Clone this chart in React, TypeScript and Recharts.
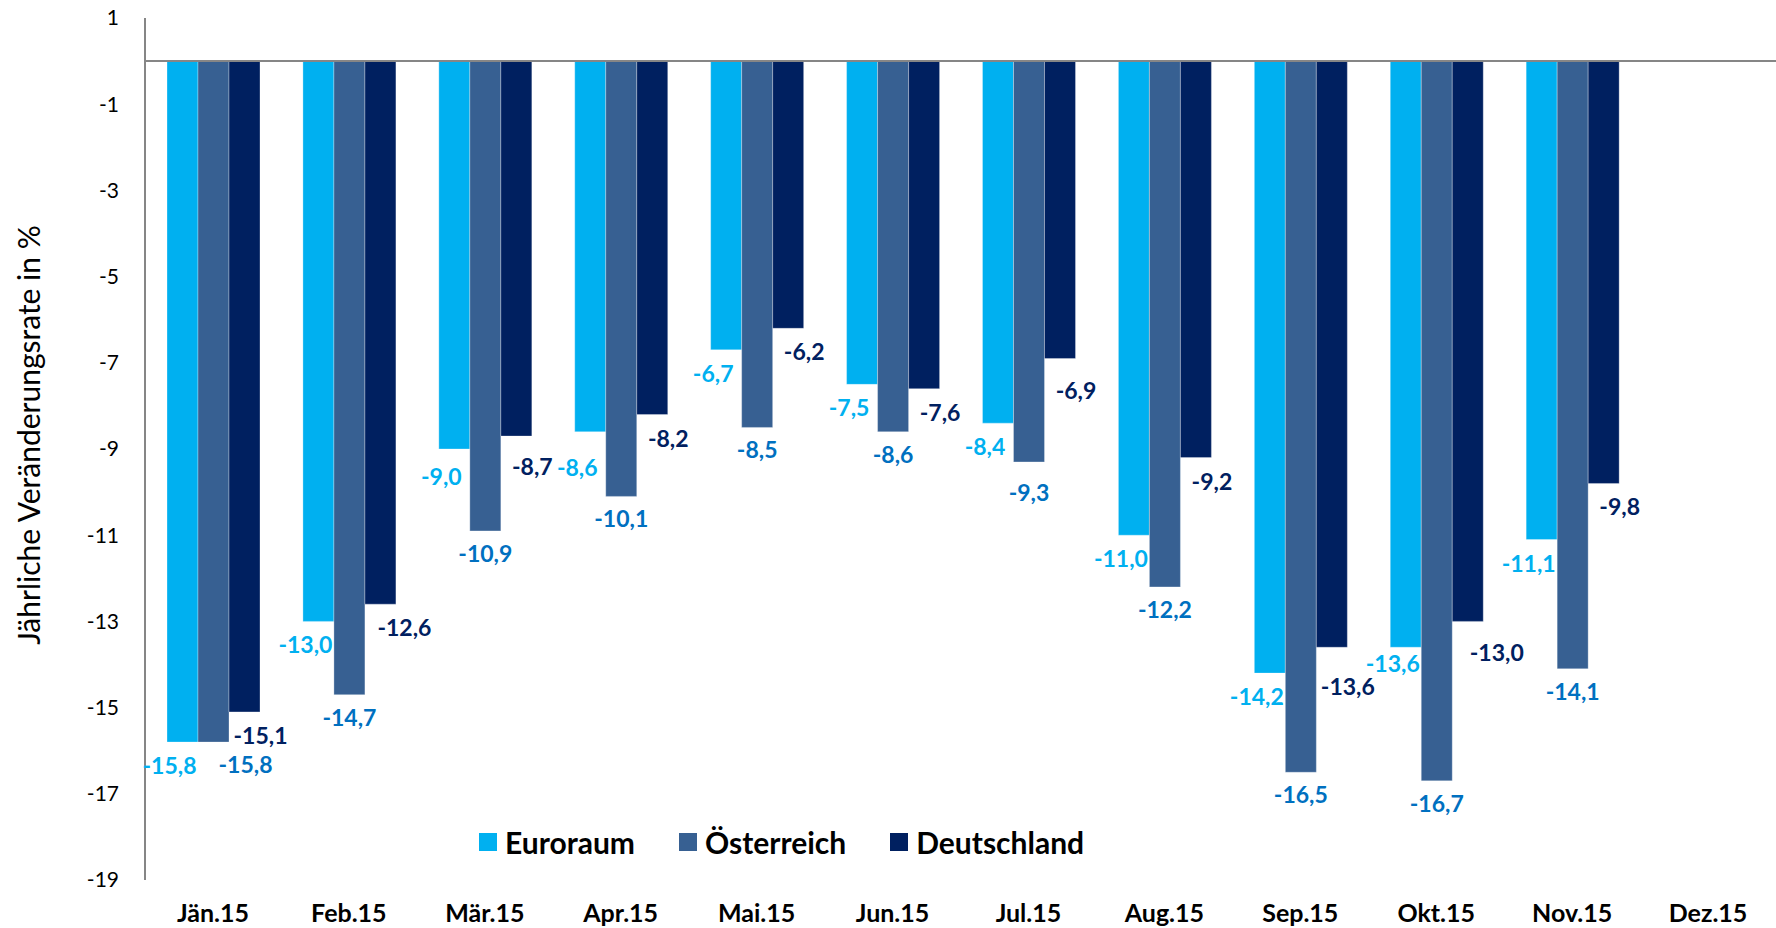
import React from 'react';
import { BarChart, Bar, XAxis, YAxis, ReferenceLine, LabelList, Legend } from 'recharts';

const months = ['Jän.15', 'Feb.15', 'Mär.15', 'Apr.15', 'Mai.15', 'Jun.15', 'Jul.15', 'Aug.15', 'Sep.15', 'Okt.15', 'Nov.15', 'Dez.15'];
const euroraum = [-15.8, -13.0, -9.0, -8.6, -6.7, -7.5, -8.4, -11.0, -14.2, -13.6, -11.1, null];
const oesterreich = [-15.8, -14.7, -10.9, -10.1, -8.5, -8.6, -9.3, -12.2, -16.5, -16.7, -14.1, null];
const deutschland = [-15.1, -12.6, -8.7, -8.2, -6.2, -7.6, -6.9, -9.2, -13.6, -13.0, -9.8, null];
const yTicks = [1, -1, -3, -5, -7, -9, -11, -13, -15, -17, -19];

const seriesNames = ['Euroraum', 'Österreich', 'Deutschland'];
const barColors = ['#00B0F0', '#376092', '#002060'];
const labelColors = ['#00B0F0', '#0070C0', '#002060'];

// manual label nudges (label placement only, like hand-moved labels in the original)
const labelNudge: Record<string, [number, number]> = {
  'eu|Mär.15': [0, 4],
  'eu|Apr.15': [0, 12],
  'eu|Okt.15': [0, -7],
  'at|Jän.15': [32, 0],
  'at|Jul.15': [0, 8],
  'de|Feb.15': [8, 0],
  'de|Mär.15': [0, 7],
  'de|Jul.15': [0, 9],
  'de|Sep.15': [0, 16],
  'de|Okt.15': [13, 8],
};

const data = months.map((m, i) => ({ month: m, eu: euroraum[i], at: oesterreich[i], de: deutschland[i] }));

const FONT = 'Lato, "Open Sans", sans-serif';

const fmt = (v: number) => v.toFixed(1).replace('.', ',');

const makeLabel = (key: string, color: string, dx: number, dy: number) => (props: any) => {
  const { x, y, width, height, value, index } = props;
  if (value === null || value === undefined) return null;
  const nudge = labelNudge[key + '|' + months[index]] || [0, 0];
  const bottom = Math.max(Number(y), Number(y) + Number(height));
  const cx = Number(x) + Number(width) / 2 + dx + nudge[0];
  return (
    <text x={cx} y={bottom + dy + nudge[1]} textAnchor="middle" dominantBaseline="central" fill={color}
      style={{ fontFamily: FONT, fontWeight: 700, fontSize: 23 }}>
      {fmt(Number(value))}
    </text>
  );
};

const renderLegend = () => (
  <div style={{ display: 'flex', alignItems: 'center', fontFamily: FONT, fontWeight: 700, fontSize: 30, color: '#000', whiteSpace: 'nowrap' }}>
    {seriesNames.map((n, i) => (
      <div key={n} style={{ display: 'flex', alignItems: 'center', marginRight: 44 }}>
        <span style={{ display: 'inline-block', width: 18, height: 18, background: barColors[i], marginRight: 8 }} />
        <span>{n}</span>
      </div>
    ))}
  </div>
);

const yLabel = () => (
  <text x={28} y={435} transform="rotate(-90 28 435)" textAnchor="middle" dominantBaseline="central" fill="#000"
    style={{ fontFamily: FONT, fontSize: 30 }}>
    Jährliche Veränderungsrate in %
  </text>
);

export default function App() {
  return (
    <div style={{ position: 'absolute', left: 0, top: 0, width: 1776, height: 928, background: '#fff', fontFamily: FONT }}>
      <BarChart width={1776} height={928} data={data} margin={{ top: 18, right: 0, bottom: 0, left: 0 }}
        barCategoryGap={22} barGap={0}>
        <XAxis dataKey="month" axisLine={false} tickLine={false} height={48} tickMargin={18} interval={0}
          tick={{ fontFamily: FONT, fontWeight: 700, fontSize: 25, fill: '#000' }} />
        <YAxis domain={[-19, 1]} ticks={yTicks} width={145} allowDataOverflow
          axisLine={{ stroke: '#868686', strokeWidth: 2 }} tickLine={false} tickMargin={20}
          tick={{ fontFamily: FONT, fontSize: 21, fill: '#000' }}
          label={{ content: yLabel }} />
        <Bar dataKey="eu" name={seriesNames[0]} fill={barColors[0]} stroke="#ffffff" strokeOpacity={0.4} strokeWidth={0.75} isAnimationActive={false}>
          <LabelList dataKey="eu" content={makeLabel('eu', labelColors[0], -13, 23)} />
        </Bar>
        <Bar dataKey="at" name={seriesNames[1]} fill={barColors[1]} stroke="#ffffff" strokeOpacity={0.4} strokeWidth={0.75} isAnimationActive={false}>
          <LabelList dataKey="at" content={makeLabel('at', labelColors[1], 0, 22)} />
        </Bar>
        <Bar dataKey="de" name={seriesNames[2]} fill={barColors[2]} stroke="#ffffff" strokeOpacity={0.4} strokeWidth={0.75} isAnimationActive={false}>
          <LabelList dataKey="de" content={makeLabel('de', labelColors[2], 16, 23)} />
        </Bar>
        <ReferenceLine y={0} stroke="#868686" strokeWidth={2} />
        <Legend verticalAlign="middle" layout="horizontal" content={renderLegend}
          wrapperStyle={{ left: 479, top: 824, width: 'auto', height: 36 }} />
      </BarChart>
    </div>
  );
}
